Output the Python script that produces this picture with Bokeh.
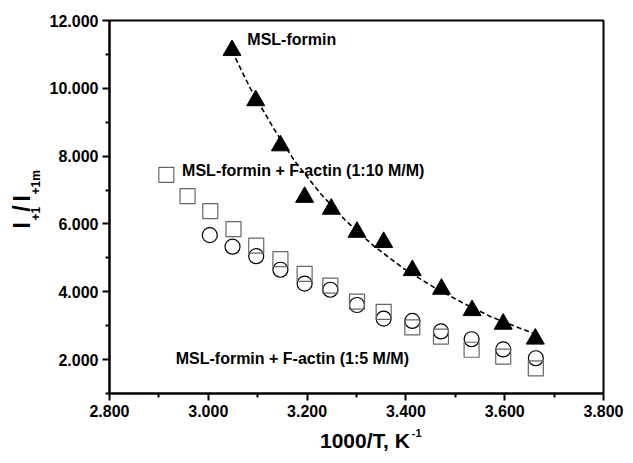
import math
from bokeh.plotting import figure
from bokeh.layouts import row, column
from bokeh.models import Range1d, FixedTicker, NumeralTickFormatter, Label
from bokeh.embed import file_html
from bokeh.resources import INLINE

# ---- data ----
tri_x = [3.048, 3.096, 3.146, 3.195, 3.249, 3.301, 3.355, 3.413, 3.472, 3.534, 3.597, 3.662]
tri_y = [11.12, 9.64, 8.31, 6.79, 6.44, 5.76, 5.46, 4.63, 4.08, 3.45, 3.05, 2.61]

sq_x = [2.915, 2.958, 3.004, 3.051, 3.097, 3.146, 3.195, 3.247, 3.301, 3.355, 3.413, 3.471, 3.533, 3.597, 3.663]
sq_y = [7.45, 6.82, 6.38, 5.85, 5.36, 4.96, 4.53, 4.18, 3.71, 3.41, 2.95, 2.68, 2.29, 2.09, 1.74]

ci_x = [3.003, 3.049, 3.097, 3.146, 3.195, 3.247, 3.301, 3.355, 3.413, 3.471, 3.533, 3.597, 3.663]
ci_y = [5.67, 5.33, 5.05, 4.65, 4.24, 4.06, 3.61, 3.21, 3.14, 2.83, 2.60, 2.30, 2.04]

fit_x = [3.048, 3.085, 3.133, 3.175, 3.227, 3.278, 3.335, 3.396, 3.457, 3.514, 3.571, 3.630, 3.662]
fit_y = [11.10, 10.00, 8.80, 7.85, 6.90, 6.10, 5.35, 4.68, 4.13, 3.68, 3.27, 2.93, 2.76]

x_ticks = [2.8, 3.0, 3.2, 3.4, 3.6, 3.8]
x_minor = [2.9, 3.1, 3.3, 3.5, 3.7]
y_ticks = [2, 4, 6, 8, 10, 12]
y_minor = [1, 3, 5, 7, 9, 11]

FONT = "Liberation Sans"

LW, MW = 46, 579           # left strip, main width
MH, BH = 423, 40           # main height, bottom strip height
BL, BR, BT, BB = 63, 22, 20, 30

xr = Range1d(2.8, 3.8)
yr = Range1d(1, 12)

# ---------------- main plot ----------------
p = figure(width=MW, height=MH, output_backend="svg", toolbar_location=None,
           x_range=xr, y_range=yr,
           min_border_left=BL, min_border_right=BR, min_border_top=BT, min_border_bottom=BB)
p.xgrid.visible = False
p.ygrid.visible = False
p.outline_line_color = "black"
p.outline_line_width = 2
p.background_fill_color = "white"
p.border_fill_color = "white"

p.xaxis.ticker = FixedTicker(ticks=x_ticks, minor_ticks=x_minor)
p.yaxis.ticker = FixedTicker(ticks=y_ticks, minor_ticks=y_minor)
for ax in (p.xaxis, p.yaxis):
    ax.formatter = NumeralTickFormatter(format="0.000")
    ax.axis_line_width = 2
    ax.axis_line_color = "black"
    ax.major_tick_line_width = 2
    ax.minor_tick_line_width = 2
    ax.major_tick_out = 7
    ax.major_tick_in = 0
    ax.minor_tick_out = 4
    ax.minor_tick_in = 0
    ax.major_label_text_font = FONT
    ax.major_label_text_font_style = "bold"
    ax.major_label_text_font_size = "16px"
    ax.major_label_text_color = "black"
p.xaxis.major_label_standoff = 4
p.yaxis.major_label_standoff = 4

p.line(fit_x, fit_y, line_color="black", line_width=1.6, line_dash="5 3")
p.scatter(ci_x, ci_y, marker="circle", size=15, fill_color=None, line_color="black", line_width=1.2)
p.scatter(sq_x, sq_y, marker="square", size=15, fill_color=None, line_color="#666666", line_width=1.2)
p.scatter(tri_x, tri_y, marker="triangle", size=18, fill_color="black", line_color="black")


def lab(fig, text, x, y, size, align="left", baseline="middle", angle=0.0):
    fig.add_layout(Label(x=x, y=y, text=text, text_font=FONT, text_font_style="bold",
                         text_font_size=size, text_color="black", text_align=align,
                         text_baseline=baseline, angle=angle))


lab(p, "MSL-formin", 3.079, 11.44, "16px")
lab(p, "MSL-formin + F-actin (1:10 M/M)", 2.947, 7.58, "16px")
lab(p, "MSL-formin + F-actin (1:5 M/M)", 2.934, 2.03, "16px")


def strip(w, h, x_range, y_range, bl, br, bt, bb):
    f = figure(width=w, height=h, output_backend="svg", toolbar_location=None,
               x_range=x_range, y_range=y_range,
               x_axis_type=None, y_axis_type=None,
               min_border=0, min_border_left=bl, min_border_right=br,
               min_border_top=bt, min_border_bottom=bb)
    f.xgrid.visible = False
    f.ygrid.visible = False
    f.outline_line_color = None
    return f


# ---------------- y title strip (rotated, with subscripts) ----------------
# same vertical frame as the main plot, so y is in data units of the main plot
L = strip(LW, MH + BH, Range1d(0, LW), yr, 0, 0, BT, MH + BH - BT - (MH - BT - BB))
a = math.pi / 2
lab(L, "I", 21.7, 5.864, "23px", angle=a)
lab(L, "+1", 35, 6.10, "12px", angle=a)
lab(L, "/", 21.7, 6.36, "23px", angle=a)
lab(L, "I", 21.7, 6.66, "23px", angle=a)
lab(L, "+1m", 35.5, 6.87, "12px", angle=a)

# ---------------- x title strip (with superscript) ----------------
# same horizontal frame as the main plot, so x is in data units of the main plot
B = strip(MW, BH, xr, Range1d(0, BH), BL, BR, 0, 0)
lab(B, "1000/T, K", 3.408, 23, "21px", align="right", baseline="middle")
lab(B, "-1", 3.412, 31, "11px", align="left", baseline="middle")

layout = row(L, column(p, B, spacing=0), spacing=0)
open("out.html", "w").write(file_html(layout, INLINE))
